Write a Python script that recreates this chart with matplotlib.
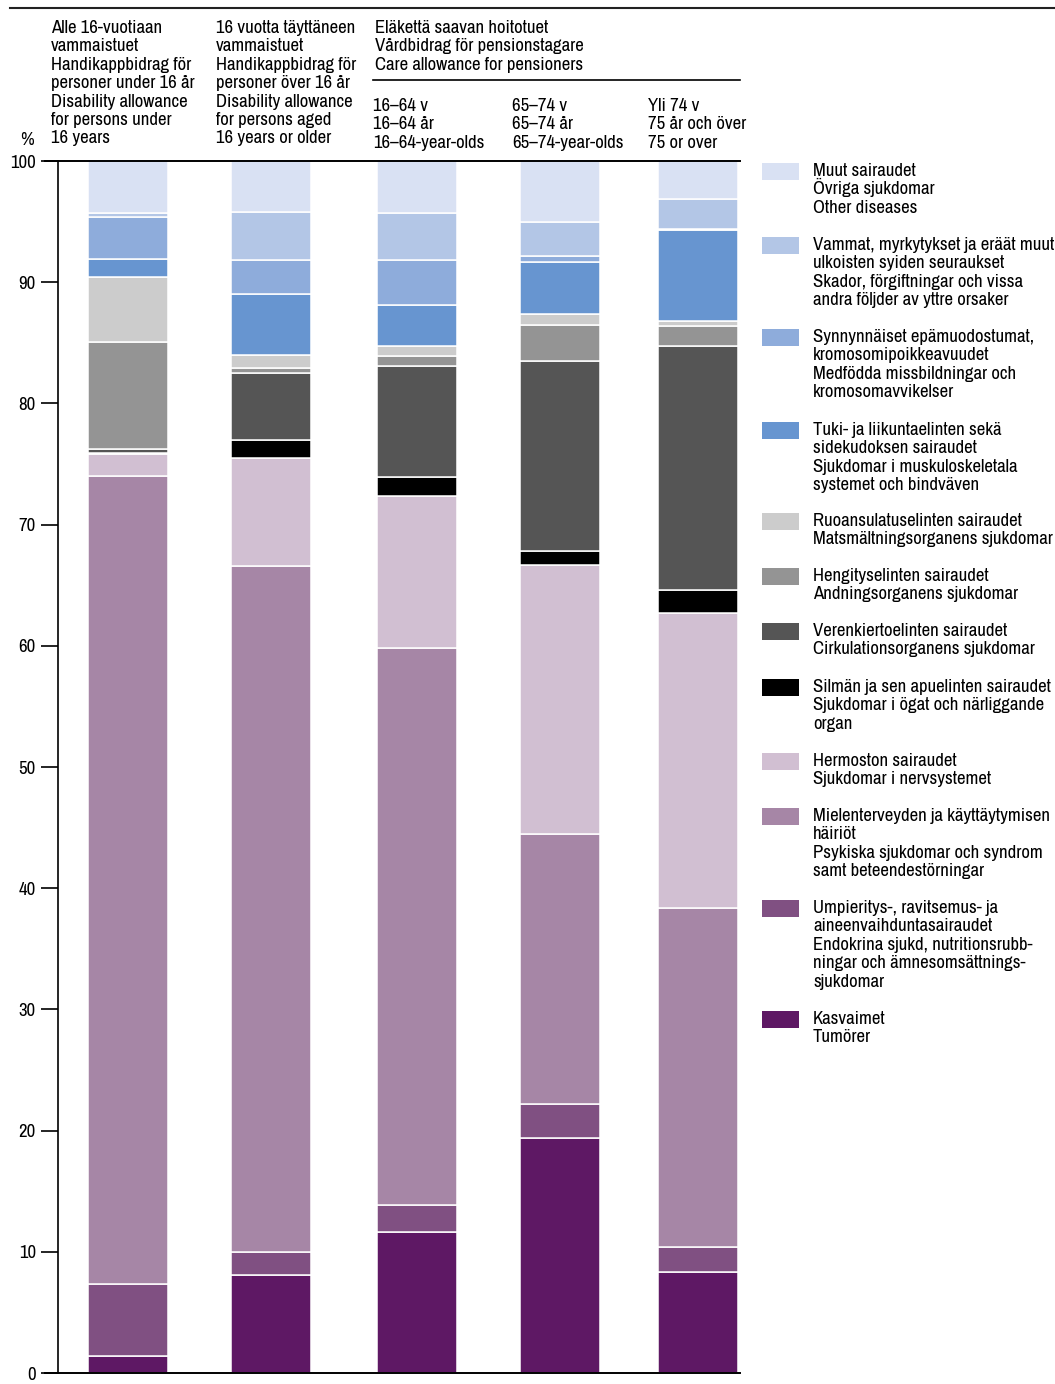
import matplotlib
matplotlib.use("Agg")
import numpy as np
from matplotlib import pyplot as plt
from matplotlib.patches import Rectangle
from matplotlib.lines import Line2D

W, H = 1055, 1384
plt.rcParams['font.family'] = ['Archivo Narrow', 'DejaVu Sans']
plt.rcParams['font.stretch'] = 'condensed'

# shares (%) per bar, bottom to top
tumors = [1.4, 8.1, 11.6, 19.4, 8.3]
endocrine = [5.95, 1.9, 2.3, 2.8, 2.1]
mental = [66.7, 56.6, 45.9, 22.3, 28.0]
nerves = [1.75, 8.9, 12.6, 22.2, 24.3]
eye = [0.1, 1.5, 1.5, 1.1, 1.9]
circulation = [0.3, 5.5, 9.2, 15.7, 20.1]
respiratory = [8.9, 0.4, 0.8, 3.0, 1.7]
digestive = [5.3, 1.1, 0.8, 0.9, 0.4]
musculo = [1.5, 5.0, 3.4, 4.3, 7.5]
congenital = [3.5, 2.8, 3.7, 0.5, 0.1]
injuries = [0.3, 4.0, 3.9, 2.8, 2.5]
other = [4.3, 4.2, 4.3, 5.0, 3.1]

series = [tumors, endocrine, mental, nerves, eye, circulation,
          respiratory, digestive, musculo, congenital, injuries, other]
colors = ['#5e1864', '#805082', '#a686a6', '#d1bfd2', '#000000', '#555555',
          '#949494', '#cccccc', '#6795d0', '#8eacdb', '#b3c6e6', '#d9e1f3']

legend_labels = [
    "Kasvaimet\nTumörer",
    "Umpieritys-, ravitsemus- ja\naineenvaihduntasairaudet\nEndokrina sjukd, nutritionsrubb-\nningar och ämnesomsättnings-\nsjukdomar",
    "Mielenterveyden ja käyttäytymisen\nhäiriöt\nPsykiska sjukdomar och syndrom\nsamt beteendestörningar",
    "Hermoston sairaudet\nSjukdomar i nervsystemet",
    "Silmän ja sen apuelinten sairaudet\nSjukdomar i ögat och närliggande\norgan",
    "Verenkiertoelinten sairaudet\nCirkulationsorganens sjukdomar",
    "Hengityselinten sairaudet\nAndningsorganens sjukdomar",
    "Ruoansulatuselinten sairaudet\nMatsmältningsorganens sjukdomar",
    "Tuki- ja liikuntaelinten sekä\nsidekudoksen sairaudet\nSjukdomar i muskuloskeletala\nsystemet och bindväven",
    "Synnynnäiset epämuodostumat,\nkromosomipoikkeavuudet\nMedfödda missbildningar och\nkromosomavvikelser",
    "Vammat, myrkytykset ja eräät muut\nulkoisten syiden seuraukset\nSkador, förgiftningar och vissa\nandra följder av yttre orsaker",
    "Muut sairaudet\nÖvriga sjukdomar\nOther diseases",
]

col_labels = [
    "Alle 16-vuotiaan\nvammaistuet\nHandikappbidrag för\npersoner under 16 år\nDisability allowance\nfor persons under\n16 years",
    "16 vuotta täyttäneen\nvammaistuet\nHandikappbidrag för\npersoner över 16 år\nDisability allowance\nfor persons aged\n16 years or older",
]
group_label = "Eläkettä saavan hoitotuet\nVårdbidrag för pensionstagare\nCare allowance for pensioners"
sub_labels = ["16–64 v\n16–64 år\n16–64-year-olds",
              "65–74 v\n65–74 år\n65–74-year-olds",
              "Yli 74 v\n75 år och över\n75 or over"]

# layout in pixels
bar_x = [128, 271, 417, 560, 698]
bar_w = 80
FS = 13.5
PITCH = 18.4


def fx(x):
    return x / W


def fy(y):
    return 1 - y / H


def lines(x, base, text):
    # one text per line so the line pitch stays even
    for i, ln in enumerate(text.split("\n")):
        fig.text(fx(x), fy(base + i * PITCH), ln, fontsize=FS,
                 ha='left', va='baseline')


fig = plt.figure(figsize=(W / 100, H / 100), dpi=100)
ax = fig.add_axes([fx(58), fy(1373), fx(740) - fx(58), fy(161) - fy(1373)])

bottom = np.zeros(5)
for vals, c in zip(series, colors):
    ax.bar(bar_x, vals, width=bar_w, bottom=bottom, color=c,
           edgecolor='white', linewidth=1.1)
    bottom += np.array(vals)

ax.set_xlim(58, 740)
ax.set_ylim(0, 100)
ax.set_yticks(range(0, 101, 10))
ax.tick_params(axis='y', direction='out', length=12, width=1.2,
               labelsize=FS, pad=4)
ax.set_xticks([])
for s in ['top', 'bottom']:
    ax.spines[s].set_linewidth(1.4)
ax.spines['left'].set_linewidth(1.2)
ax.spines['right'].set_visible(False)

# extend top/bottom lines to tick length
fig.add_artist(Line2D([fx(45), fx(58)], [fy(161), fy(161)], color='black', lw=1.4))
fig.add_artist(Line2D([fx(45), fx(58)], [fy(1373), fy(1373)], color='black', lw=1.4))

# headers
fig.add_artist(Line2D([fx(10), fx(1055)], [fy(8), fy(8)], color='#222222', lw=1.5))
fig.text(fx(27), fy(145), "%", fontsize=FS, ha='center', va='baseline')
lines(51, 33, col_labels[0])
lines(216, 33, col_labels[1])
lines(375, 33, group_label)
fig.add_artist(Line2D([fx(373), fx(740)], [fy(80), fy(80)], color='black', lw=1.2))
for xx, lab in zip([373, 512, 648], sub_labels):
    lines(xx, 111, lab)

# legend, top to bottom
legend_top = [163, 237, 329, 422, 513, 568, 623, 679, 753, 808, 900, 1011]
for i, yy in enumerate(legend_top):
    k = len(series) - 1 - i
    fig.add_artist(Rectangle((fx(762), fy(yy + 17)), fx(799) - fx(762), fy(yy) - fy(yy + 17),
                             facecolor=colors[k], edgecolor='none'))
    lines(813, yy + 13, legend_labels[k])

plt.savefig("out.png", dpi=100)
